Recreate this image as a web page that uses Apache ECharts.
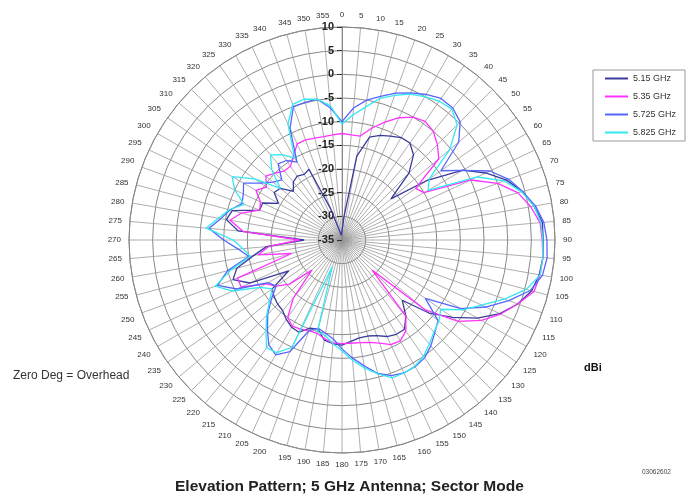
<!DOCTYPE html>
<html><head><meta charset="utf-8">
<script src="https://cdn.jsdelivr.net/npm/echarts@6/dist/echarts.min.js"></script>
<style>html,body{margin:0;padding:0;background:#fff}#c{width:692px;height:500px}</style>
</head><body><div id="c"></div>
<script>
// Angles (degrees, 0 = overhead, clockwise)
const angles = [0,5,10,15,20,25,30,35,40,45,50,55,60,65,70,75,80,85,90,95,100,105,110,115,120,125,130,135,140,145,150,155,160,165,170,175,180,185,190,195,200,205,210,215,220,225,230,235,240,245,250,255,260,265,270,275,280,285,290,295,300,305,310,315,320,325,330,335,340,345,350,355];
// Gain (dBi) per series
const g515 = [-33,-30,-17,-12.5,-11.5,-10.8,-10,-10,-11.5,-15,-21.5,-13,-5.5,-1.5,2,4.5,6.2,7.5,7.5,7.6,7.3,6.5,4.5,1.8,-2,-6.5,-11,-17,-14,-12,-12,-12.5,-13.5,-14,-14,-13.5,-12.8,-13,-13.5,-15.5,-15.2,-13.5,-13.7,-14.5,-15.5,-15.8,-16.3,-17,-22,-13.5,-10.5,-12,-16,-19,-27,-13,-10.2,-11,-16.5,-16.5,-19.5,-17.5,-18,-20.5,-19,-18.5,-19,-18.5,-28,-33,-34,-34];
const g535 = [-12.5,-12.7,-12.7,-10.5,-8.5,-6.5,-5,-4.4,-5,-6.5,-8.3,-16,-15,-5,0,3.5,5.5,7,7.3,7.6,7.5,7,4.5,2,-1,-5,-12,-26,-14,-11.5,-10.4,-10.6,-11.8,-12.6,-13,-13.1,-13.1,-13.2,-13.8,-14.6,-14.6,-14.2,-14,-15,-19,-26,-20.5,-18,-16.5,-11.5,-11.5,-24,-17,-19.5,-26,-14,-11,-13,-16.5,-16,-14,-15.5,-14,-15,-16,-16,-14.5,-12.6,-12.5,-12.7,-12.8,-12.7];
const g5725 = [-10,-7,-5,-3.6,-2,-0.7,0.5,1.5,1.4,0.3,-2.8,-9.5,-5.6,-0.5,2.5,4.5,6.5,7.8,8.3,8.5,8,6.2,2.5,-1.5,-6,-13.5,-8.5,-7.3,-5.8,-4.6,-4.1,-4,-4.5,-5.8,-8,-10,-12,-14,-15,-15.7,-14.6,-9,-7,-8,-10.5,-12.8,-15.5,-18,-17,-10.5,-7,-10,-15,-13,-10,-6.8,-9,-10.5,-12.5,-12,-11,-14,-16,-17,-14,-14.5,-16,-9,-5,-4.9,-4.8,-7];
const g5825 = [-10.5,-8.5,-6.5,-4,-2.5,-1,0,0.8,1.1,-0.6,-5.3,-12.5,-14,-3.5,1.5,4.3,6.2,7.2,7.4,7.6,7.5,5.3,1.5,-2.5,-5.5,-9.5,-8.3,-7.5,-6.3,-5,-4.2,-4,-4,-5.7,-7.5,-9.5,-11.6,-13,-14.5,-15,-29,-10,-7.5,-7.2,-10,-12.5,-15,-17,-15,-9.5,-6.5,-10.8,-15.3,-14,-12,-6.2,-8.5,-10.3,-13,-10,-8.2,-12.5,-18,-14,-11.5,-13,-15,-8,-4.5,-4.2,-4.8,-6.5];
const seriesNames = ['5.15 GHz','5.35 GHz','5.725 GHz','5.825 GHz'];
const seriesColors = ['#3b3b9e','#ff33ff','#5566ff','#33e8f0'];
const gains = [g515, g535, g5725, g5825];
const radiusMin = -35, radiusMax = 10, radiusStep = 5;
const angleStep = 5;

function toData(vals){
  const d = angles.map((a,i)=>[vals[i], a]);
  d.push([vals[0], 360]);
  return d;
}

const chart = echarts.init(document.getElementById('c'), null, {renderer:'canvas'});
chart.setOption({
  animation:false,
  polar:{center:[342,240], radius:213},
  angleAxis:{
    type:'value', min:0, max:360, interval:angleStep, startAngle:90, clockwise:true,
    axisLine:{lineStyle:{color:'#888', width:1}},
    axisTick:{show:false},
    axisLabel:{fontSize:8, color:'#333', margin:8, fontFamily:'Liberation Sans, Arial',
      formatter:v => v===360 ? '' : String(v)},
    splitLine:{show:true, lineStyle:{color:'#999', width:0.8}}
  },
  radiusAxis:{
    type:'value', min:radiusMin, max:radiusMax, interval:radiusStep,
    axisLine:{show:true, lineStyle:{color:'#888'}},
    axisTick:{show:true, length:5, lineStyle:{color:'#333'}},
    axisLabel:{fontSize:11, fontWeight:'bold', color:'#222', fontFamily:'Liberation Sans, Arial'},
    splitLine:{show:true, lineStyle:{color:'#888', width:1}}
  },
  legend:{
    orient:'vertical', left:593, top:70,
    data:seriesNames, icon:'rect', itemWidth:23, itemHeight:2, itemGap:9,
    borderColor:'#999', borderWidth:1, padding:[4,9,4,12],
    textStyle:{fontSize:9, color:'#333', fontFamily:'Liberation Sans, Arial'}
  },
  graphic:[
    {type:'text', left:13, top:370, style:{text:'Zero Deg = Overhead', fontSize:12, fill:'#333', fontFamily:'Liberation Sans, Arial'}},
    {type:'text', left:584, top:362, style:{text:'dBi', fontSize:11, fontWeight:'bold', fill:'#111', fontFamily:'Liberation Sans, Arial'}},
    {type:'text', left:175, top:479, style:{text:'Elevation Pattern; 5 GHz Antenna; Sector Mode', fontSize:15.5, fontWeight:'bold', fill:'#222', fontFamily:'Liberation Sans, Arial'}},
    {type:'text', left:642, top:469, style:{text:'03062602', fontSize:6.5, fill:'#444', fontFamily:'Liberation Sans, Arial'}}
  ],
  series: gains.map((g,i)=>({
    name:seriesNames[i], type:'line', coordinateSystem:'polar',
    data:toData(g), symbol:'none', smooth:false,
    lineStyle:{color:seriesColors[i], width:1.3},
    itemStyle:{color:seriesColors[i]}
  }))
});
</script></body></html>
